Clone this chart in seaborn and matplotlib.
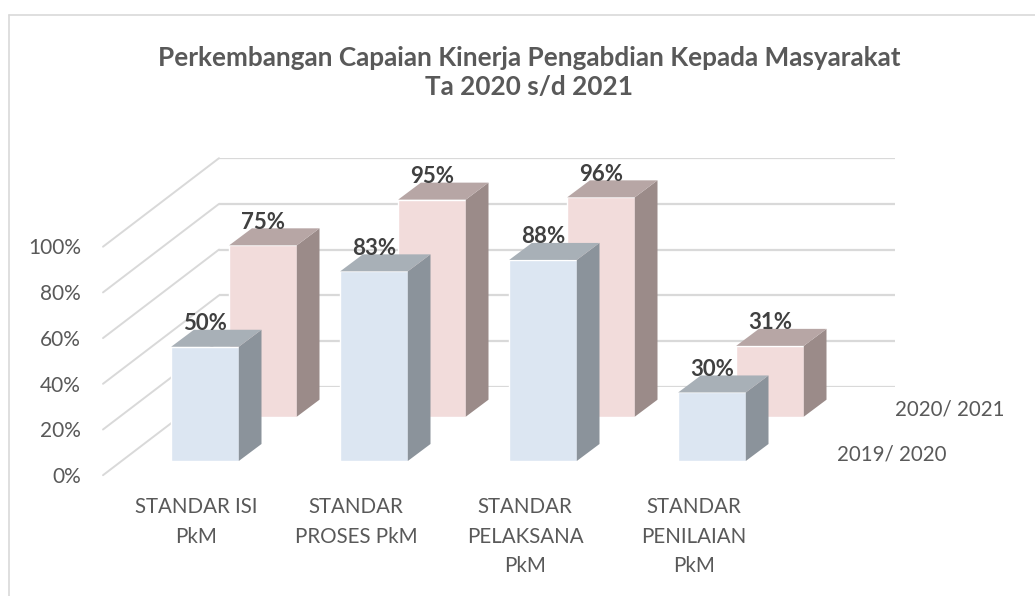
import matplotlib
matplotlib.use('Agg')
import matplotlib.pyplot as plt
import seaborn as sns
from matplotlib.lines import Line2D
from matplotlib.patches import Polygon
from matplotlib.ticker import PercentFormatter

categories = ['STANDAR ISI\nPkM', 'STANDAR\nPROSES PkM', 'STANDAR\nPELAKSANA\nPkM', 'STANDAR\nPENILAIAN\nPkM']
values_2019 = [50, 83, 88, 30]
values_2021 = [75, 95, 96, 31]
series_names = ['2019/ 2020', '2020/ 2021']
ticks = [0, 20, 40, 60, 80, 100]
label_shift = [-9, -18, -18, -18]

W, H = 1035, 596
PX_X = 169.0    # pixels per category
PX_Y = 2.285    # pixels per percent
DEPTH_X = 22.7 / PX_X
DEPTH_Y = 17.0 / PX_Y

TEXT = '#595959'
GRID = '#D9D9D9'

sns.set_style('white')
plt.rcParams['font.family'] = ['Lato', 'DejaVu Sans']

fig = plt.figure(figsize=(W / 100, H / 100), dpi=100)


def make_axes(left, base, width=676.0):
    ax = fig.add_axes([left / W, 1 - base / H, width / W, 100 * PX_Y / H])
    ax.patch.set_alpha(0)
    sns.despine(ax=ax, left=True, bottom=True)
    return ax


def draw_series(ax, values, face, side, top, name):
    sns.barplot(x=categories, y=values, color=face, saturation=1, width=0.4, ax=ax)
    for bar in ax.containers[0]:
        x0, x1 = bar.get_x(), bar.get_x() + bar.get_width()
        h = bar.get_height()
        ax.add_patch(Polygon([(x1, 0), (x1 + DEPTH_X, DEPTH_Y), (x1 + DEPTH_X, h + DEPTH_Y), (x1, h)],
                             facecolor=side, edgecolor='none', clip_on=False))
        ax.add_patch(Polygon([(x0, h), (x0 + DEPTH_X, h + DEPTH_Y), (x1 + DEPTH_X, h + DEPTH_Y), (x1, h)],
                             facecolor=top, edgecolor='none', clip_on=False))
    ax.bar_label(ax.containers[0], fmt='%d%%', padding=9, fontsize=16, fontweight='bold', color='#404040')
    ax.set_xlim(-0.5, 3.5)
    ax.set_ylim(0, 100)
    ax.set_yticks([])
    ax.annotate(name, xy=(1, 0), xycoords='axes fraction', xytext=(29, 5), textcoords='offset points',
                ha='left', va='center', fontsize=14.8, color=TEXT, annotation_clip=False)


# back wall with its gridlines
wall = make_axes(219, 386.7)
wall.set_xlim(-0.5, 3.5)
wall.set_ylim(0, 100)
wall.set_xticks([])
wall.set_yticks(ticks)
wall.set_yticklabels([])
wall.tick_params(length=0)
wall.grid(axis='y', color=GRID, linewidth=1.6)
wall.set_axisbelow(True)
for t in ticks:
    wall.plot([-0.5, -0.5 - 116 / PX_X], [t, t - 88.5 / PX_Y], color=GRID, linewidth=1.4, clip_on=False)

# axis with the percentage labels, at the front end of the side wall
scale = make_axes(103, 475, width=10)
scale.set_xticks([])
scale.set_ylim(0, 100)
scale.set_yticks(ticks)
scale.yaxis.set_major_formatter(PercentFormatter(100, decimals=0))
scale.tick_params(axis='y', length=0, pad=16, labelsize=15, labelcolor=TEXT)

back = make_axes(178.5, 416.7)
draw_series(back, values_2021, '#F2DCDB', '#9B8B89', '#B7A6A5', series_names[1])
back.set_xticks([])

front = make_axes(120.5, 461)
draw_series(front, values_2019, '#DCE6F2', '#8B939B', '#A8B0B7', series_names[0])
front.set_xticks(range(len(categories)))
front.set_xticklabels(categories, fontsize=14.8, color=TEXT, linespacing=1.6)
front.tick_params(axis='x', length=0, pad=26)
for lab, shift in zip(front.get_xticklabels(), label_shift):
    lab.set_transform(lab.get_transform() + matplotlib.transforms.Affine2D().translate(shift, 0))

fig.text(529 / W, 1 - 72.5 / H, 'Perkembangan Capaian Kinerja Pengabdian Kepada Masyarakat\nTa 2020 s/d 2021',
         ha='center', va='center', fontsize=18.8, fontweight='bold', color=TEXT, linespacing=1.25)

# chart frame, only top and left edges show in the crop
fig.add_artist(Line2D([9 / W, 9 / W], [0, 1 - 15 / H], color=GRID, linewidth=1.2))
fig.add_artist(Line2D([9 / W, 1], [1 - 15 / H, 1 - 15 / H], color=GRID, linewidth=1.2))

fig.savefig('out.png', dpi=100)
